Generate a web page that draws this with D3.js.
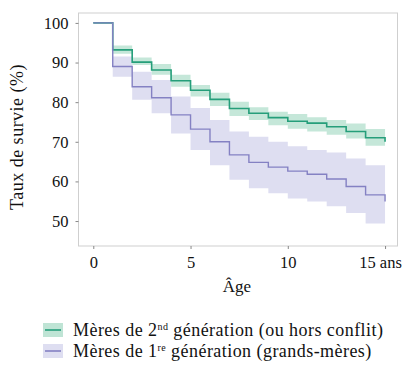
<!DOCTYPE html>
<html>
<head>
<meta charset="utf-8">
<script src="https://cdn.jsdelivr.net/npm/d3@7"></script>
<style>
  body { margin: 0; background: #fff; }
  text { font-family: "Liberation Serif", serif; fill: #111; }
</style>
</head>
<body>
<svg id="chart" width="410" height="373"></svg>
<script>
// ages in years, survival rates in %
const ages = [0, 1, 2, 3, 4, 5, 6, 7, 8, 9, 10, 11, 12, 13, 14, 15];
const gen2 = [100, 93.2, 90.1, 88.1, 85.4, 83.0, 80.7, 78.4, 77.2, 76.1, 75.2, 74.7, 73.8, 72.6, 71.0, 70.0];
const gen2Low = [100, 92.2, 89.4, 86.9, 83.9, 81.4, 79.0, 76.5, 75.5, 74.2, 73.3, 72.6, 71.8, 70.8, 69.0, 69.0];
const gen2High = [100, 94.3, 91.3, 89.6, 86.9, 84.3, 82.4, 80.1, 78.7, 77.6, 77.0, 76.2, 75.5, 74.6, 73.2, 73.2];
const gen1 = [100, 89.0, 83.9, 81.1, 76.8, 73.2, 70.0, 66.7, 64.8, 63.6, 62.6, 61.8, 60.6, 58.7, 56.6, 54.9];
const gen1Low = [100, 86.4, 80.6, 77.2, 72.1, 67.9, 64.1, 60.4, 58.3, 57.0, 55.7, 54.9, 53.7, 52.0, 49.4, 49.4];
const gen1High = [100, 91.5, 87.7, 85.6, 81.4, 78.5, 75.5, 72.6, 71.3, 70.0, 68.9, 67.9, 67.3, 65.8, 64.1, 64.1];

const xTicks = [0, 5, 10, 15];
const xTickLabels = ["0", "5", "10", "15 ans"];
const yTicks = [50, 60, 70, 80, 90, 100];

const svg = d3.select("#chart");
const mLeft = 78.5, mRight = 397.5, mTop = 13, mBottom = 246;

const x = d3.scaleLinear().domain([-0.76, 15.64]).range([mLeft, mRight]);
const y = d3.scaleLinear().domain([43.7, 102.5]).range([mBottom, mTop]);

const green = "#259e7a", greenFill = "#bfe4d5";
const purple = "#8481c3", purpleFill = "#dedef1";

function series(vals, lo, hi) {
  return ages.map((a, i) => ({ age: a, v: vals[i], lo: lo[i], hi: hi[i] }));
}
const s2 = series(gen2, gen2Low, gen2High);
const s1 = series(gen1, gen1Low, gen1High);

const area = d3.area()
    .curve(d3.curveStepAfter)
    .x(d => x(d.age))
    .y0(d => y(d.lo))
    .y1(d => y(d.hi));

const line = d3.line()
    .curve(d3.curveStepAfter)
    .x(d => x(d.age))
    .y(d => y(d.v));

svg.append("path").datum(s1).attr("d", area).attr("fill", purpleFill);
svg.append("path").datum(s2).attr("d", area).attr("fill", greenFill).attr("opacity", 0.9);
svg.append("path").datum(s2).attr("d", line).attr("fill", "none")
    .attr("stroke", green).attr("stroke-width", 1.6);
svg.append("path").datum(s1).attr("d", line).attr("fill", "none")
    .attr("stroke", purple).attr("stroke-width", 1.4);

// frame
svg.append("rect")
    .attr("x", mLeft).attr("y", mTop)
    .attr("width", mRight - mLeft).attr("height", mBottom - mTop)
    .attr("fill", "none").attr("stroke", "#cfcfcf").attr("stroke-width", 1);

// axes
const xAxis = svg.append("g")
    .attr("transform", `translate(0,${mBottom})`)
    .call(d3.axisBottom(x).tickValues(xTicks).tickSize(3).tickPadding(7)
      .tickFormat((d, i) => xTickLabels[i]));
xAxis.select(".domain").remove();
xAxis.selectAll("line").attr("stroke", "#888");
xAxis.selectAll("text").style("font-size", "16.5px")
    .attr("dx", (d, i) => i === 3 ? "-5" : "0");

const yAxis = svg.append("g")
    .attr("transform", `translate(${mLeft},0)`)
    .call(d3.axisLeft(y).tickValues(yTicks).tickSize(3).tickPadding(7));
yAxis.select(".domain").remove();
yAxis.selectAll("line").attr("stroke", "#888");
yAxis.selectAll("text").style("font-size", "16.5px");

svg.append("text")
    .attr("x", 237).attr("y", 292)
    .attr("text-anchor", "middle")
    .style("font-size", "17px")
    .text("Âge");

svg.append("text")
    .attr("transform", "translate(23,137) rotate(-90)")
    .attr("text-anchor", "middle")
    .style("font-size", "18px")
    .style("letter-spacing", "0.5px")
    .text("Taux de survie (%)");

// legend
const legend = [
  { color: green, fill: greenFill, pre: "Mères de 2", sup: "nd", post: " génération (ou hors conflit)" },
  { color: purple, fill: purpleFill, pre: "Mères de 1", sup: "re", post: " génération (grands-mères)" }
];
const lg = svg.selectAll(".leg").data(legend).enter().append("g")
    .attr("transform", (d, i) => `translate(43,${330 + i * 21})`);
lg.append("rect").attr("x", 0).attr("y", -7).attr("width", 20).attr("height", 14)
    .attr("fill", d => d.fill);
lg.append("line").attr("x1", 2).attr("x2", 18).attr("y1", 0).attr("y2", 0)
    .attr("stroke", d => d.color).attr("stroke-width", 1.6);
const lt = lg.append("text").attr("x", 30).attr("y", 5.5)
    .style("font-size", "18px").style("letter-spacing", "0.45px");
lt.append("tspan").text(d => d.pre);
lt.append("tspan").text(d => d.sup).attr("dy", -6).style("font-size", "10px");
lt.append("tspan").text(d => d.post).attr("dy", 6);
</script>
</body>
</html>
